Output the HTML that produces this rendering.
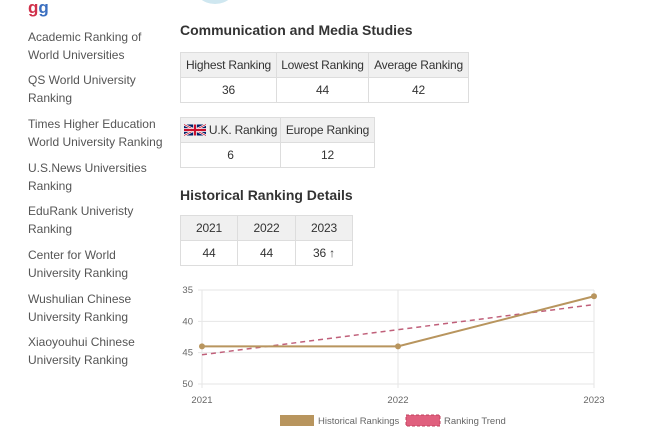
<!DOCTYPE html>
<html><head><meta charset="utf-8">
<style>
body{margin:0;width:665px;height:445px;background:#fff;font-family:"Liberation Sans",sans-serif;position:relative;overflow:hidden;color:#333}
.side{position:absolute;left:28px;font-size:12px;color:#555;line-height:18px;white-space:nowrap}
h2{position:absolute;left:180px;margin:0;font-size:14px;font-weight:bold;color:#333}
table{position:absolute;border-collapse:collapse;font-size:12px;color:#333;table-layout:fixed}
td{border:1px solid #ddd;text-align:center;height:24px;padding:0;white-space:nowrap;overflow:hidden;letter-spacing:-0.2px}
tr.h td{background:#f0f0f0}
</style></head><body>
<div style="position:absolute;left:28px;top:1px;font-weight:bold;font-size:17px;line-height:14px;"><span style="color:#d0304a">g</span><span style="color:#3b6fc0">g</span></div>
<div style="position:absolute;left:193px;top:-36px;width:44px;height:40px;border-radius:50%;background:#cfe7f0"></div>

<div class="side" style="top:28px">Academic Ranking of<br>World Universities</div>
<div class="side" style="top:71px">QS World University<br>Ranking</div>
<div class="side" style="top:115px">Times Higher Education<br>World University Ranking</div>
<div class="side" style="top:159px">U.S.News Universities<br>Ranking</div>
<div class="side" style="top:202px">EduRank Univeristy<br>Ranking</div>
<div class="side" style="top:246px">Center for World<br>University Ranking</div>
<div class="side" style="top:290px">Wushulian Chinese<br>University Ranking</div>
<div class="side" style="top:333px">Xiaoyouhui Chinese<br>University Ranking</div>

<h2 style="top:22px">Communication and Media Studies</h2>
<table style="left:180px;top:52px;width:288px">
<colgroup><col style="width:96px"><col style="width:92px"><col style="width:100px"></colgroup>
<tr class="h"><td>Highest Ranking</td><td>Lowest Ranking</td><td>Average Ranking</td></tr>
<tr><td>36</td><td>44</td><td>42</td></tr></table>

<table style="left:180px;top:117px;width:194px">
<colgroup><col style="width:100px"><col style="width:94px"></colgroup>
<tr class="h"><td><svg width="22" height="12" viewBox="0 0 60 30" style="vertical-align:-2px"><rect width="60" height="30" fill="#012169"/><path d="M0,0 60,30M60,0 0,30" stroke="#fff" stroke-width="6"/><path d="M0,0 60,30M60,0 0,30" stroke="#C8102E" stroke-width="2"/><path d="M30,0v30M0,15h60" stroke="#fff" stroke-width="10"/><path d="M30,0v30M0,15h60" stroke="#C8102E" stroke-width="6"/></svg> U.K. Ranking</td><td>Europe Ranking</td></tr>
<tr><td>6</td><td>12</td></tr></table>

<h2 style="top:187px">Historical Ranking Details</h2>
<table style="left:180px;top:215px;width:172px">
<colgroup><col style="width:57px"><col style="width:58px"><col style="width:57px"></colgroup>
<tr class="h"><td>2021</td><td>2022</td><td>2023</td></tr>
<tr><td>44</td><td>44</td><td>36 ↑</td></tr></table>

<svg id="chart" width="665" height="445" style="position:absolute;left:0;top:0" font-family="Liberation Sans, sans-serif"></svg>
<script>
const years=["2021","2022","2023"];
const rankings=[44,44,36];
const trend=[45.33,41.33,37.33];
const yTicks=[35,40,45,50];
const svg=document.getElementById('chart');const NS='http://www.w3.org/2000/svg';
const x0=202,x1=594,yTop=290,yBot=384;
const xs=i=>x0+(x1-x0)*i/(years.length-1);
const ys=v=>yTop+(v-35)/(50-35)*(yBot-yTop);
function mk(t,a){const e=document.createElementNS(NS,t);for(const k in a)e.setAttribute(k,a[k]);svg.appendChild(e);return e;}
yTicks.forEach(v=>{
 const g=mk('line',{x1:x0-4,x2:x1,y1:ys(v),y2:ys(v),stroke:'#e6e6e6'});
 
 
 const t=mk('text',{x:x0-9,y:ys(v)+3,'text-anchor':'end','font-size':'9.5',fill:'#666'});t.textContent=v;
 
 
});
years.forEach((y,i)=>{
 const g=mk('line',{x1:xs(i),x2:xs(i),y1:yTop,y2:yBot+4,stroke:'#e6e6e6'});
 
 
 const t=mk('text',{x:xs(i),y:yBot+19,'text-anchor':'middle','font-size':'9.5',fill:'#666'});t.textContent=y;
 
 
});
const tl=mk('polyline',{points:trend.map((v,i)=>xs(i)+','+ys(v)).join(' '),fill:'none',stroke:'#c0607a','stroke-width':1.5,'stroke-dasharray':'5,4'});


const hl=mk('polyline',{points:rankings.map((v,i)=>xs(i)+','+ys(v)).join(' '),fill:'none',stroke:'#b8955e','stroke-width':2});


rankings.forEach((v,i)=>{const c=mk('circle',{cx:xs(i),cy:ys(v),r:3,fill:'#b8955e'});
 
 });
const l1=mk('rect',{x:280,y:415,width:34,height:11,fill:'#b8955e'});


const lt1=mk('text',{x:318,y:424,'font-size':'9.5',fill:'#666'});lt1.textContent='Historical Rankings';


const l2=mk('rect',{x:406,y:415,width:34,height:11,fill:'#e0607e',stroke:'#c0405e','stroke-dasharray':'3,2'});


const lt2=mk('text',{x:444,y:424,'font-size':'9.5',fill:'#666'});lt2.textContent='Ranking Trend';


</script>
</body></html>
